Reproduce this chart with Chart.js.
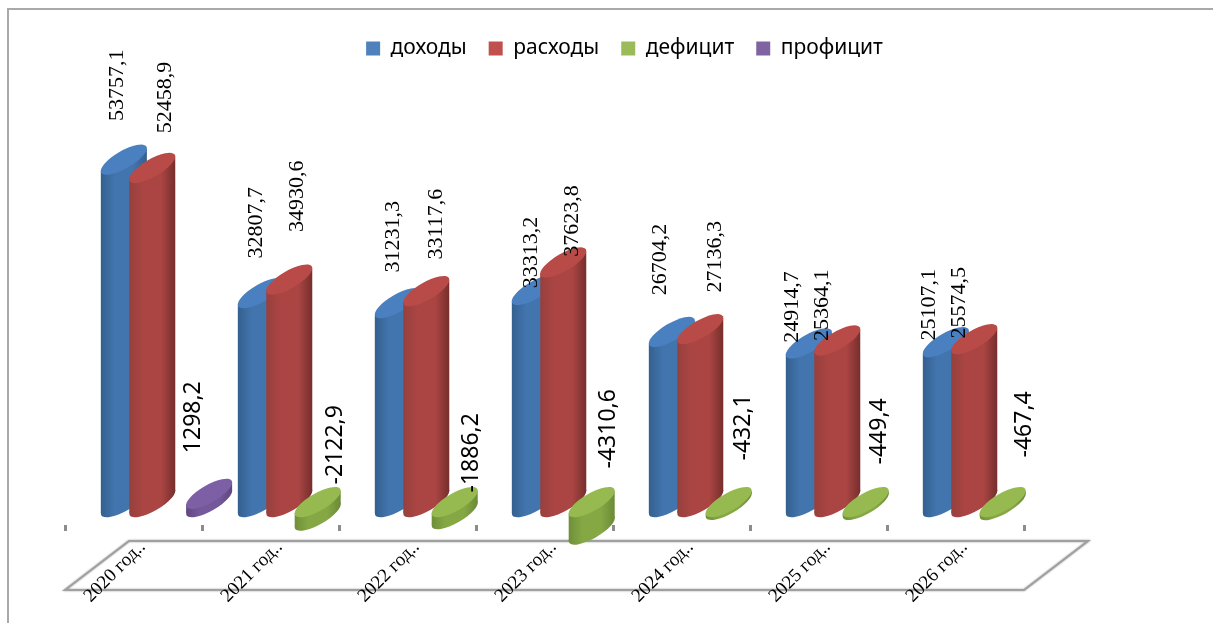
<!DOCTYPE html>
<html>
<head>
<meta charset="utf-8">
<script src="https://cdn.jsdelivr.net/npm/chart.js@4"></script>
<style>
  html, body { margin: 0; padding: 0; background: #fff; overflow: hidden; }
  #frame { position: absolute; left: 7px; top: 8px; right: 0; bottom: 0; border-left: 2px solid #a9a9a9; border-top: 2px solid #a9a9a9; }
  canvas { position: absolute; left: 0; top: 0; }
</style>
</head>
<body>
<div id="frame"></div>
<canvas id="myChart" width="1213" height="623"></canvas>
<script>
var categories = ["2020 год..", "2021 год..", "2022 год..", "2023 год..", "2024 год..", "2025 год..", "2026 год.."];
var dohody = [53757.1, 32807.7, 31231.3, 33313.2, 26704.2, 24914.7, 25107.1];
var rashody = [52458.9, 34930.6, 33117.6, 37623.8, 27136.3, 25364.1, 25574.5];
var deficit = [null, -2122.9, -1886.2, -4310.6, -432.1, -449.4, -467.4];
var proficit = [1298.2, null, null, null, null, null, null];

// label nudges, by series then category, hand placed like the original
var nudgeX = [
  [-7, -5, -5, -4, -12, -17, -17],
  [13, 8, 10, 9, 15, -15, -15],
  [0, 18, 17, 17, 15, 14, 22],
  [-16, 0, 0, 0, 0, 0, 0]
];
var nudgeY = [
  [-22, -18, -14, 15, -20, 16, 15],
  [-18, -31, -15, 11, -20, 17, 16],
  [0, -1, 7, -17, -25, -21, -28],
  [-24, 0, 0, 0, 0, 0, 0]
];

var shades = [
  { top: "#4a7fc0", left: "#34608f", mid: "#4274ad", right: "#355f8f" },
  { top: "#b84a47", left: "#96403d", mid: "#aa4543", right: "#762e2d" },
  { top: "#96ba50", left: "#6f8f38", mid: "#85a845", right: "#6b8a36" },
  { top: "#7d5fa6", left: "#5f4880", mid: "#75589b", right: "#5f4880" }
];

function formatValue(v) {
  return String(v).replace(".", ",");
}

function drawCylinder(ctx, el, shade) {
  var a = el.width * 0.92, b = el.width * 0.31, rot = -Math.PI / 6;
  var cx = el.x + el.width * 1.16;
  var lift = el.width * 0.47;
  var yTop = Math.min(el.y, el.base) - lift;
  var yBot = Math.max(el.y, el.base) - lift;
  var hw = a * 0.88, hh = a * 0.42;

  var g = ctx.createLinearGradient(cx - hw, 0, cx + hw, 0);
  g.addColorStop(0, shade.left);
  g.addColorStop(0.3, shade.mid);
  g.addColorStop(0.7, shade.mid);
  g.addColorStop(1, shade.right);
  ctx.fillStyle = g;

  ctx.beginPath();
  ctx.ellipse(cx, yBot, a, b, rot, 0, Math.PI * 2);
  ctx.fill();
  ctx.beginPath();
  ctx.moveTo(cx - hw, yTop + hh);
  ctx.lineTo(cx + hw, yTop - hh);
  ctx.lineTo(cx + hw, yBot - hh);
  ctx.lineTo(cx - hw, yBot + hh);
  ctx.closePath();
  ctx.fill();

  ctx.fillStyle = shade.top;
  ctx.beginPath();
  ctx.ellipse(cx, yTop, a, b, rot, 0, Math.PI * 2);
  ctx.fill();
}

var cylinders = {
  id: "cylinders",
  afterLayout: function (chart) {
    // legend sits right of the plot centre in the original
    chart.legend.left += 80;
    chart.legend.right += 80;
    chart.legend.top += 2;
    chart.legend.bottom += 2;
  },
  beforeDatasetDraw: function () {
    return false;
  },
  afterDatasetsDraw: function (chart) {
    var ctx = chart.ctx;
    chart.data.datasets.forEach(function (ds, i) {
      chart.getDatasetMeta(i).data.forEach(function (el, j) {
        if (ds.data[j] !== null) drawCylinder(ctx, el, shades[i]);
      });
    });
    chart.data.datasets.forEach(function (ds, i) {
      chart.getDatasetMeta(i).data.forEach(function (el, j) {
        if (ds.data[j] === null) return;
        ctx.save();
        ctx.translate(el.x + el.width * 1.16 + nudgeX[i][j], Math.min(el.y, el.base) - 30 + nudgeY[i][j]);
        ctx.rotate(-Math.PI / 2);
        ctx.textBaseline = "middle";
        ctx.textAlign = "left";
        ctx.fillStyle = "#000";
        ctx.font = i < 2 ? "22px 'Liberation Serif'" : "23px 'Noto Sans'";
        ctx.fillText(formatValue(ds.data[j]), 0, 0);
        ctx.restore();
      });
    });
  },
  beforeDraw: function (chart) {
    // floor of the 3d plot
    var ctx = chart.ctx, s = chart.scales.x;
    var top = s.top + 16, bottom = s.top + 65, skew = 64;
    ctx.save();
    ctx.shadowColor = "rgba(0,0,0,0.4)";
    ctx.shadowBlur = 2;
    ctx.strokeStyle = "#a0a0a0";
    ctx.lineWidth = 2;
    ctx.beginPath();
    ctx.moveTo(s.left, bottom);
    ctx.lineTo(s.left + skew, top);
    ctx.lineTo(s.right + skew, top);
    ctx.lineTo(s.right, bottom);
    ctx.closePath();
    ctx.stroke();
    ctx.restore();
  }
};

var myChart = new Chart(document.getElementById("myChart"), {
  type: "bar",
  data: {
    labels: categories,
    datasets: [
      { label: "доходы", data: dohody, backgroundColor: "#4f81bd" },
      { label: "расходы", data: rashody, backgroundColor: "#c0504d" },
      { label: "дефицит", data: deficit, backgroundColor: "#9bbb59" },
      { label: "профицит", data: proficit, backgroundColor: "#8064a2" }
    ]
  },
  options: {
    responsive: false,
    animation: false,
    categoryPercentage: 0.83,
    barPercentage: 1,
    layout: { padding: { left: 65, right: 189, top: 14, bottom: 0 } },
    plugins: {
      tooltip: { enabled: false },
      legend: {
        position: "top",
        labels: {
          boxWidth: 14,
          boxHeight: 14,
          padding: 22,
          color: "#000",
          font: { family: "'Noto Sans'", size: 21 }
        }
      }
    },
    scales: {
      x: {
        afterFit: function (scale) { scale.height = 98; },
        border: { display: false },
        grid: { drawOnChartArea: false, color: "#8c8c8c", lineWidth: 3, tickLength: 6 },
        ticks: {
          autoSkip: false,
          minRotation: 45,
          maxRotation: 45,
          padding: 5,
          labelOffset: 9,
          color: "#000",
          font: { family: "'Liberation Serif'", size: 19 }
        }
      },
      y: {
        display: false,
        min: -1500,
        max: 70400
      }
    }
  },
  plugins: [cylinders]
});
</script>
</body>
</html>
